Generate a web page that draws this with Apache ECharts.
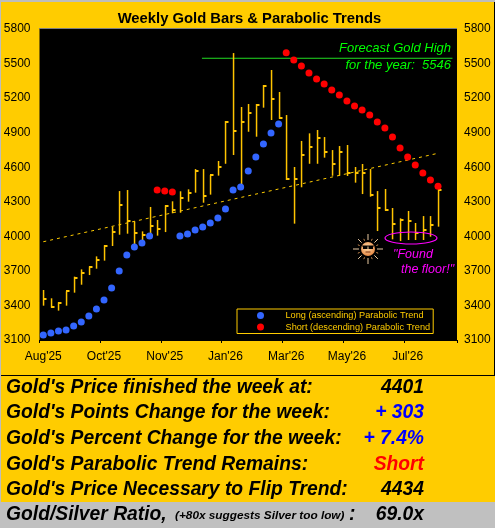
<!DOCTYPE html>
<html><head><meta charset="utf-8">
<style>html,body{margin:0;padding:0;background:#FFCC00}#c{width:495px;height:528px}</style>
<script src="https://cdn.jsdelivr.net/npm/echarts@6/dist/echarts.min.js"></script>
</head><body><div id="c"></div>
<script>
const tickLabels = ["Aug'25","Oct'25","Nov'25","Jan'26","Mar'26","May'26","Jul'26"];
const highs = [3534,3462,3427,3522,3650,3713,3739,3826,3922,4084,4393,4402,4130,4043,4255,4142,4269,4304,4391,4408,4584,4584,4532,4654,5001,5591,5123,5149,5149,5314,5444,5253,5053,4602,4828,4894,4923,4862,4749,4784,4793,4602,4628,4584,4393,4411,4246,4156,4220,4116,4176,4176,4410];
const lows = [3398,3381,3355,3398,3511,3580,3664,3719,3789,3916,4014,4023,3916,3939,4006,4006,4037,4200,4205,4301,4379,4292,4362,4527,4630,4706,4428,4908,4865,5117,5010,5021,4489,4110,4426,4630,4630,4683,4526,4526,4524,4466,4367,4344,4046,4222,3974,3959,3968,3968,3968,3997,4084];
const closes = [3459,3386,3424,3522,3641,3684,3731,3797,3916,4037,4275,4130,4026,4011,4090,4066,4266,4231,4336,4379,4570,4353,4530,4604,4992,4917,4995,5073,5143,5308,5195,5027,4498,4498,4706,4778,4856,4732,4630,4732,4552,4547,4550,4359,4248,4229,4107,4142,4133,4026,4055,4098,4401];
const longTrend = [3143,3161,3178,3187,3221,3256,3308,3369,3447,3551,3699,3838,3907,3942,4003,null,null,null,4003,4020,4055,4081,4116,4159,4237,4402,4428,4567,4689,4801,4897,4975];
const shortTrend = [null,null,null,null,null,null,null,null,null,null,null,null,null,null,null,4402,4393,4385,null,null,null,null,null,null,null,null,null,null,null,null,null,null,5594,5531,5479,5418,5366,5322,5270,5227,5175,5131,5097,5053,4992,4940,4862,4767,4689,4619,4550,4489,4434];
const trendEnds = [[0,3953],[52,4721]];
const forecastHigh = 5546;
const forecastSpan = [21.4,54.4];
const yMin = 3100, yMax = 5800, yStep = 300;
const statLabels = ["Gold's Price finished the week at:","Gold's Points Change for the week:","Gold's Percent Change for the week:","Gold's Parabolic Trend Remains:","Gold's Price Necessary to Flip Trend:"];
const statValues = ["4401","+ 303","+ 7.4%","Short","4434"];
const statColors = ["#000","#0000FF","#0000FF","#FF0000","#000"];

const BAND_COUNT = 55;
const categories = Array.from({length:BAND_COUNT},(_,i)=> i%8===0 && tickLabels[i/8] ? tickLabels[i/8] : "");
const GOLD = "#FFCC00";
const BAR = "#FFC400";
const FONT = '"Liberation Sans", Arial, sans-serif';

const graphics = [];
const rect=(x,y,w,h,fill,z)=>graphics.push({type:'rect',silent:true,z:z||0,shape:{x,y,width:w,height:h},style:{fill}});
const text=(x,y,t,font,fill,align)=>graphics.push({type:'text',silent:true,z:10,x,y,style:{text:t,font,fill,align:align||'left',verticalAlign:'middle'}});
rect(0,0,495,2,'#BDBDBD');
rect(0,0,1,503,'#BDBDBD');
rect(1,375,493,1,'#000');
rect(494,2,1,374,'#000');
rect(0,502,495,26,'#C0C0C0');
rect(39,28,418,1,'#808080');

text(249.5,19,'Weekly Gold Bars & Parabolic Trends','bold 14.8px '+FONT,'#000','center');

const rowY=[388,413,439,465,490];
statLabels.forEach((s,i)=>{
  text(6,rowY[i],s,'italic bold 19.3px '+FONT,'#000');
  text(424,rowY[i],statValues[i],'italic bold 19.3px '+FONT,statColors[i],'right');
});
text(6,515,'Gold/Silver Ratio,','italic bold 19.3px '+FONT,'#000');
text(175,516,'(+80x suggests Silver too low)','italic bold 11.8px '+FONT,'#000');
text(349,515,':','italic bold 19.3px '+FONT,'#000');
text(424,515,'69.0x','italic bold 19.3px '+FONT,'#000','right');

text(451,48,'Forecast Gold High','italic 13px '+FONT,'#00FF00','right');
text(451,65,'for the year:  5546','italic 13px '+FONT,'#00FF00','right');
text(393,255,'"Found','italic 12.5px '+FONT,'#FF00FF');
text(401,270,'the floor!"','italic 12.5px '+FONT,'#FF00FF');

graphics.push({type:'ellipse',silent:true,z:10,shape:{cx:411,cy:238,rx:26,ry:6},style:{fill:'none',stroke:'#FF00FF',lineWidth:1.2}});

// sun annotation
const sunX=368, sunY=249;
for(let k=0;k<16;k++){
  const a=k*Math.PI/8, c=Math.cos(a), s=Math.sin(a);
  const r0=9, r1= k%4===0 ? 15 : (k%2===0 ? 14 : 11);
  graphics.push({type:'line',silent:true,z:10,shape:{x1:sunX+r0*c,y1:sunY+r0*s,x2:sunX+r1*c,y2:sunY+r1*s},
    style:{stroke:k%2? '#C98A50':'#E8C8A0',lineWidth:1}});
}
graphics.push({type:'circle',silent:true,z:11,shape:{cx:sunX,cy:sunY,r:7},
  style:{fill:{type:'radial',x:0.45,y:0.4,r:0.7,colorStops:[{offset:0,color:'#FFE0B0'},{offset:1,color:'#E07830'}]}}});
rect(sunX-5,sunY-3,4.5,3,'#000',12);
rect(sunX+0.5,sunY-3,4.5,3,'#000',12);
rect(sunX-6,sunY-3.5,12,1,'#000',12);
graphics.push({type:'line',silent:true,z:12,shape:{x1:sunX-2.5,y1:sunY+3,x2:sunX+2.5,y2:sunY+3},style:{stroke:'#7A3010',lineWidth:1}});

const barData = highs.map((h,i)=>[i,h,lows[i],closes[i]]);
const chart = echarts.init(document.getElementById('c'),null,{renderer:'canvas'});
chart.setOption({
  animation:false,
  backgroundColor:GOLD,
  grid:{left:39.5,top:29,width:417.5,height:311,show:true,backgroundColor:'#000',borderWidth:0,outerBoundsMode:'none'},
  legend:{
    left:237,top:309,orient:'vertical',padding:[1,3,1,20],itemGap:0.5,itemWidth:40,itemHeight:7,
    backgroundColor:'#000',borderColor:GOLD,borderWidth:1,borderRadius:0,selectedMode:false,
    data:['Long (ascending) Parabolic Trend','Short (descending) Parabolic Trend'],
    textStyle:{color:GOLD,fontSize:9.2,fontFamily:FONT,lineHeight:11,padding:0}
  },
  xAxis:[
    {type:'category',data:categories,boundaryGap:true,
     axisLine:{show:true,lineStyle:{color:'#000'}},
     axisTick:{show:true,interval:7,length:3,lineStyle:{color:'#000'}},
     axisLabel:{interval:7,color:'#000',fontSize:12,fontFamily:FONT,margin:11,showMinLabel:true,hideOverlap:false},
     splitLine:{show:false}},
    {type:'value',min:0,max:BAND_COUNT,show:false,splitLine:{show:false}}
  ],
  yAxis:[
    {type:'value',min:yMin,max:yMax,interval:yStep,position:'left',
     axisLine:{show:false},axisTick:{show:false},splitLine:{show:false},
     axisLabel:{color:'#000',fontSize:12,fontFamily:FONT,margin:9,formatter:v=>String(v)}},
    {type:'value',min:yMin,max:yMax,interval:yStep,position:'right',
     axisLine:{show:false},axisTick:{show:false},splitLine:{show:false},
     axisLabel:{color:'#000',fontSize:12,fontFamily:FONT,margin:7,formatter:v=>String(v)}}
  ],
  graphic:graphics,
  series:[
    {type:'line',name:'trend',data:trendEnds,symbol:'none',silent:true,z:2,
     lineStyle:{color:GOLD,width:1,type:[3,4]}},
    {type:'line',name:'forecast',xAxisIndex:1,yAxisIndex:0,symbol:'none',silent:true,z:2,
     data:forecastSpan.map(x=>[x,forecastHigh]),lineStyle:{color:'#22DD22',width:1}},
    {type:'custom',name:'bars',z:3,silent:true,data:barData,
     encode:{x:0,y:[1,2,3]},
     renderItem(params,api){
       const i=api.value(0);
       const top=api.coord([i,api.value(1)]);
       const bot=api.coord([i,api.value(2)]);
       const cl=api.coord([i,api.value(3)]);
       const x=Math.round(top[0]);
       return {type:'group',children:[
         {type:'rect',shape:{x:x-0.2,y:top[1],width:1.5,height:bot[1]-top[1]},style:{fill:BAR}},
         {type:'rect',shape:{x:x,y:Math.round(cl[1])-1,width:3.5,height:2},style:{fill:BAR}}
       ]};
     }},
    {type:'scatter',name:'Long (ascending) Parabolic Trend',data:longTrend,symbol:'circle',symbolSize:7,z:4,silent:true,
     itemStyle:{color:'#3366FF',opacity:1}},
    {type:'scatter',name:'Short (descending) Parabolic Trend',data:shortTrend,symbol:'circle',symbolSize:7,z:4,silent:true,
     itemStyle:{color:'#FF0000',opacity:1}}
  ]
});
</script>
</body></html>
